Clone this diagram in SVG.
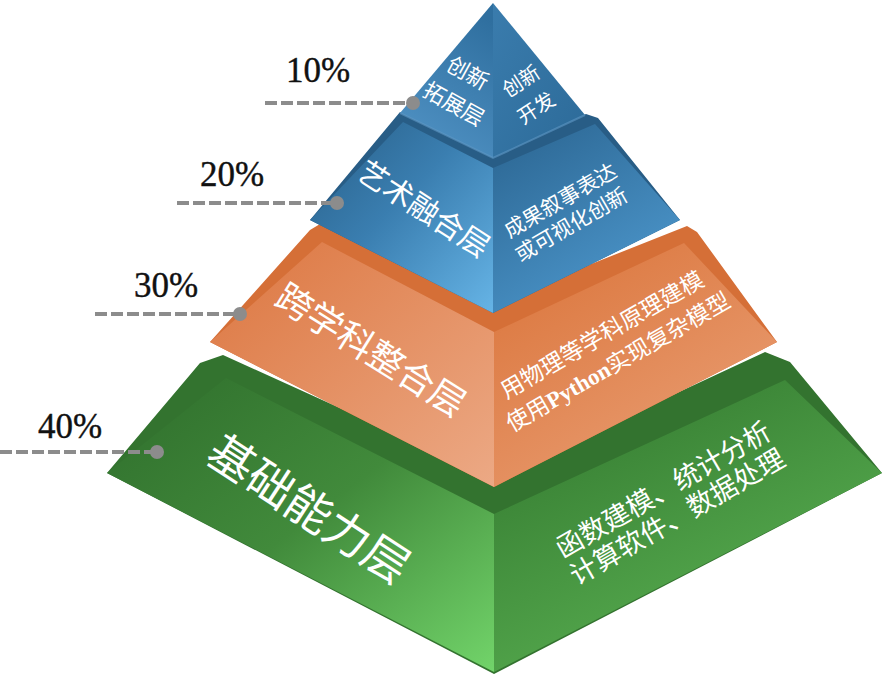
<svg xmlns="http://www.w3.org/2000/svg" width="886" height="678" viewBox="0 0 886 678">
<defs>
<linearGradient id="t1L" x1="0.7" y1="0" x2="0.3" y2="1"><stop offset="0" stop-color="#2f6f9f"/><stop offset="1" stop-color="#5092c4"/></linearGradient>
<linearGradient id="t1R" x1="0" y1="0" x2="1" y2="1"><stop offset="0" stop-color="#3a7cad"/><stop offset="1" stop-color="#2c6a98"/></linearGradient>
<linearGradient id="t2L" x1="0" y1="0" x2="1" y2="1"><stop offset="0" stop-color="#285f88"/><stop offset="0.45" stop-color="#3a7eb0"/><stop offset="1" stop-color="#66b4e6"/></linearGradient>
<linearGradient id="t2R" x1="0" y1="0" x2="0.6" y2="1"><stop offset="0" stop-color="#2a6490"/><stop offset="1" stop-color="#4c96cb"/></linearGradient>
<linearGradient id="t3L" x1="0" y1="0" x2="1" y2="1"><stop offset="0" stop-color="#dc7640"/><stop offset="1" stop-color="#eca985"/></linearGradient>
<linearGradient id="t3R" x1="0" y1="0" x2="0.7" y2="1"><stop offset="0" stop-color="#da7339"/><stop offset="1" stop-color="#e99d72"/></linearGradient>
<linearGradient id="t4L" x1="0" y1="0" x2="1" y2="1"><stop offset="0" stop-color="#2f6e2c"/><stop offset="0.5" stop-color="#418a3b"/><stop offset="1" stop-color="#72d46a"/></linearGradient>
<linearGradient id="t4R" x1="0.2" y1="0" x2="0.8" y2="1"><stop offset="0" stop-color="#347a30"/><stop offset="1" stop-color="#5db555"/></linearGradient>
<style>
.cn{font-family:"Noto Sans CJK SC","Noto Sans CJK JP",sans-serif;fill:#ffffff;text-anchor:middle}
.pct{font-size:35px;fill:#111111;stroke:#111111;stroke-width:0.4;text-anchor:middle}
.dash{stroke:#8c8c8c;stroke-width:4;stroke-dasharray:12 4;fill:none}
.dot{fill:#8c8c8c}
.py{font-weight:bold}
</style>
</defs>
<rect width="886" height="678" fill="#ffffff"/>

<g id="tier-foundation">
<polygon points="200,363 223,355 494,478 765,352 790,362 882,473 494,674 107,473" fill="#33732f"/>
<polygon points="226,378 107,473 494,672 494,514" fill="url(#t4L)"/>
<polygon points="494,514 494,672 882,473 785,380" fill="url(#t4R)"/>
<text class="cn" font-size="46" transform="translate(300,523) rotate(33)">基础能力层</text>
<text class="cn" font-size="27" transform="translate(668,498) rotate(-30)">函数建模、统计分析</text>
<text class="cn" font-size="27" transform="translate(682,525) rotate(-30)">计算软件、数据处理</text>
</g>

<g id="tier-interdisciplinary">
<polygon points="310,230 320,224 493,303 687,226 697,232 777,342 494,487 210,342" fill="#d56f37"/>
<polygon points="322,242 210,342 494,487 494,332" fill="url(#t3L)"/>
<polygon points="494,332 494,487 777,342 684,243" fill="url(#t3R)"/>
<text class="cn" font-size="36" transform="translate(364,361) rotate(32)">跨学科整合层</text>
<text class="cn" font-size="23" transform="translate(606,342) rotate(-30)">用物理等学科原理建模</text>
<text class="cn" font-size="23" transform="translate(622,369) rotate(-30)">使用<tspan class="py" font-family="Liberation Serif, serif">Python</tspan>实现复杂模型</text>
</g>

<g id="tier-art">
<polygon points="400,112 493,150 586,114 598,118 680,220 493,313 310,220" fill="#285d86"/>
<polygon points="403,122 310,220 493,313 493,168" fill="url(#t2L)"/>
<polygon points="493,168 493,313 680,220 595,124" fill="url(#t2R)"/>
<text class="cn" font-size="30" transform="translate(418,218) rotate(33)">艺术融合层</text>
<text class="cn" font-size="21" transform="translate(564,207) rotate(-30)">成果叙事表达</text>
<text class="cn" font-size="21" transform="translate(575,231) rotate(-30)">或可视化创新</text>
</g>

<g id="tier-innovation">
<polygon points="493,3 400,113 493,158" fill="url(#t1L)"/>
<polygon points="493,3 493,158 585,115" fill="url(#t1R)"/>
<polyline points="400,113 493,158 585,115" fill="none" stroke="#5f98c4" stroke-width="2" opacity="0.6"/>
<text class="cn" font-size="22" transform="translate(464,80) rotate(29)">创新</text>
<text class="cn" font-size="22" transform="translate(450,111) rotate(29)">拓展层</text>
<text class="cn" font-size="20" transform="translate(525,87) rotate(-33)">创新</text>
<text class="cn" font-size="20" transform="translate(540,114) rotate(-33)">开发</text>
</g>

<g id="connectors">
<line class="dash" x1="265" y1="103" x2="413" y2="103"/>
<circle class="dot" cx="413" cy="103" r="7"/>
<line class="dash" x1="177" y1="203" x2="337" y2="203"/>
<circle class="dot" cx="337" cy="203" r="7"/>
<line class="dash" x1="95" y1="314" x2="240" y2="314"/>
<circle class="dot" cx="240" cy="314" r="7"/>
<line class="dash" x1="0" y1="452" x2="157" y2="452"/>
<circle class="dot" cx="157" cy="452" r="7"/>
</g>

<g id="labels" font-family="Liberation Serif, Times New Roman, serif">
<text class="pct" x="318" y="82">10%</text>
<text class="pct" x="232" y="186">20%</text>
<text class="pct" x="166" y="297">30%</text>
<text class="pct" x="70" y="438">40%</text>
</g>
</svg>
